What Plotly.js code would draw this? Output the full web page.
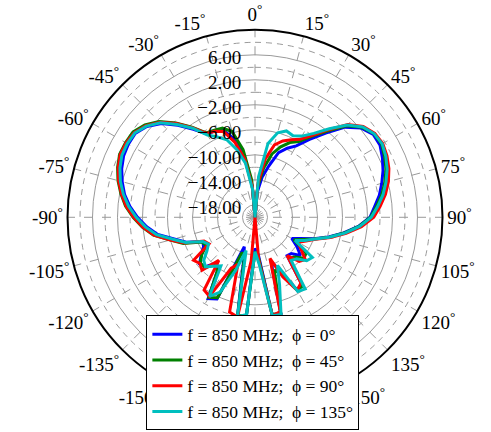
<!DOCTYPE html>
<html>
<head>
<meta charset="utf-8">
<script src="https://cdn.plot.ly/plotly-3.0.1.min.js"></script>
<style>html,body{margin:0;padding:0;background:#fff;}#chart{width:491px;height:432px;}</style>
</head>
<body>
<div id="chart"></div>
<script>
// Angles (degrees, clockwise from top)
const theta = [0,5,10,15,20,25,30,35,40,45,50,55,60,65,70,75,80,85,90,95,100,105,110,115,120,125,130,135,140,145,150,155,160,165,170,175,180,185,190,195,200,205,210,215,220,225,230,235,240,245,250,255,260,265,270,275,280,285,290,295,300,305,310,315,320,325,330,335,340,345,350,355,360];

// Gain in dB for each cut
const phi0 = [-20,-16,-13.5,-11.5,-9.0,-7.8,-6.8,-4.8,-2.4,0.4,2.2,3.1,3.1,2.5,1.8,1.0,0.2,-0.8,-1.6,-3.4,-5.6,-7.8,-10.0,-12.0,-13.2,-11.8,-10.5,-11.8,-12.0,-7.0,-6.6,-10.5,-12.5,-4.0,-4.2,-14,-15,-4.0,-3.8,-13,-15,-5.6,-5.0,-9.5,-10.5,-8.8,-8.4,-9.5,-10.5,-10.8,-8.3,-6.6,-4.2,-2.6,-1.2,0.1,1.2,2.0,2.7,3.2,3.4,3.4,2.6,1.2,-0.8,-2.8,-4.6,-4.8,-5.2,-7.0,-10.0,-15.0,-20];
const phi45 = [-20,-15,-12,-9.5,-8.0,-6.8,-6.0,-4.2,-2.0,0.7,2.4,3.3,3.4,2.9,2.3,1.5,0.6,-0.5,-1.5,-3.3,-5.5,-7.7,-9.9,-11.6,-12.8,-10.0,-9.8,-11.0,-11.5,-6.6,-6.5,-10.0,-11.0,-4.1,-4.2,-13.5,-14.5,-4.2,-4.0,-13.5,-14,-5.8,-5.2,-9.5,-10.0,-8.6,-8.6,-9.6,-11.0,-10.6,-7.8,-6.0,-3.5,-1.9,-0.5,0.8,1.8,2.7,3.4,3.9,3.9,3.8,3.0,1.7,-0.3,-2.4,-4.4,-4.6,-4.8,-5.8,-9.0,-14.0,-20];
const phi90 = [-20,-14.5,-10.5,-8.0,-7.0,-6.3,-5.6,-4.0,-1.7,1.0,2.6,3.4,3.6,3.3,2.8,2.1,1.2,0.1,-1.0,-2.9,-5.2,-7.5,-9.7,-11.0,-12.0,-11.0,-9.5,-10.0,-12.0,-7.2,-6.5,-9.5,-13,-4.4,-4.0,-13,-20,-13,-3.8,-4.3,-12,-11,-5.4,-5.8,-11,-8.0,-8.5,-8.0,-11.5,-11.0,-8.0,-6.0,-3.6,-2.0,-0.6,0.7,1.7,2.6,3.3,3.8,3.8,3.6,2.8,1.5,-0.4,-2.5,-4.5,-4.8,-5.4,-7.6,-10.5,-15.0,-20];
const phi135 = [-20,-13.5,-8.0,-6.0,-5.3,-5.6,-5.0,-3.6,-1.5,0.9,2.5,3.3,3.5,3.1,2.5,1.7,0.8,-0.3,-1.4,-3.2,-5.4,-7.7,-9.8,-11.2,-12.6,-8.8,-9.2,-10.6,-11.0,-6.0,-6.3,-11.5,-8.5,-3.9,-4.0,-12.5,-14.5,-4.4,-3.8,-14.5,-11.0,-6.8,-5.4,-10.5,-9.8,-8.8,-9.3,-10.6,-11.4,-10.8,-8.2,-6.4,-4.0,-2.4,-1.0,0.3,1.4,2.3,3.0,3.5,3.6,3.5,2.7,1.4,-0.6,-2.6,-4.8,-5.8,-6.8,-8.8,-11.2,-15.5,-20];

const seriesNames = ['f = 850 MHz;&nbsp; ϕ = 0°','f = 850 MHz;&nbsp; ϕ = 45°','f = 850 MHz;&nbsp; ϕ = 90°','f = 850 MHz;&nbsp; ϕ = 135°'];
const seriesColors = ['#0000ff','#008000','#ff0000','#00bfbf'];
const seriesData = [phi0, phi45, phi90, phi135];

// Radial grid
const rRange = [-20, 10];
const solidRings = [-18,-14,-10,-6,-2,2,6];
const dashedRings = [-16,-12,-8,-4,0,4,8];
const angTicks = [0,15,30,45,60,75,90,105,120,135,150,165,180,195,210,225,240,255,270,285,300,315,330,345];
const angLabels = ['0','15','30','45','60','75','90','105','120','135','150','165','180','-165','-150','-135','-120','-105','-90','-75','-60','-45','-30','-15'];

const traces = [];
// dashed intermediate rings
const ringTheta = [];
for (let a = 0; a <= 360; a += 2) ringTheta.push(a);
dashedRings.forEach(v => {
  traces.push({type:'scatterpolar', mode:'lines', theta: ringTheta, r: ringTheta.map(() => v),
    line:{color:'#9a9a9a', width:1, dash:'6px,5px'}, showlegend:false, hoverinfo:'skip'});
});
seriesData.forEach((d, i) => {
  traces.push({type:'scatterpolar', mode:'lines', theta: theta, r: d, name: seriesNames[i],
    line:{color: seriesColors[i], width: 3}});
});

const serif = 'Liberation Serif, DejaVu Serif, serif';
const layout = {
  width: 491, height: 432,
  margin: {l:0, r:0, t:0, b:0},
  paper_bgcolor: '#fff',
  showlegend: true,
  font: {family: serif, size: 18, color: '#000'},
  polar: {
    domain: {x: [0.1365, 0.9022], y: [0.063, 0.931]},
    bgcolor: 'rgba(0,0,0,0)',
    radialaxis: {
      range: rRange, tickvals: solidRings, tickformat: '.2f',
      angle: 90, side: 'counterclockwise', showline: false, ticks: '',
      gridcolor: '#9a9a9a', gridwidth: 1,
      tickfont: {family: serif, size: 19, color: '#000'}
    },
    angularaxis: {
      rotation: 90, direction: 'clockwise',
      tickvals: angTicks, ticktext: angLabels.map(s => s + '<sup>°</sup>'),
      showline: true, linecolor: '#000', linewidth: 2, ticks: '',
      gridcolor: '#9a9a9a', gridwidth: 1, griddash: 'dash',
      tickfont: {family: serif, size: 19, color: '#000'}
    }
  },
  legend: {
    x: 0.515, xanchor: 'center', y: 0.004, yanchor: 'bottom',
    bgcolor: '#fff', bordercolor: '#000', borderwidth: 1,
    font: {family: serif, size: 17.5, color: '#000'},
    tracegroupgap: 0
  }
};
Plotly.newPlot('chart', traces, layout, {staticPlot: true});
</script>
</body>
</html>
